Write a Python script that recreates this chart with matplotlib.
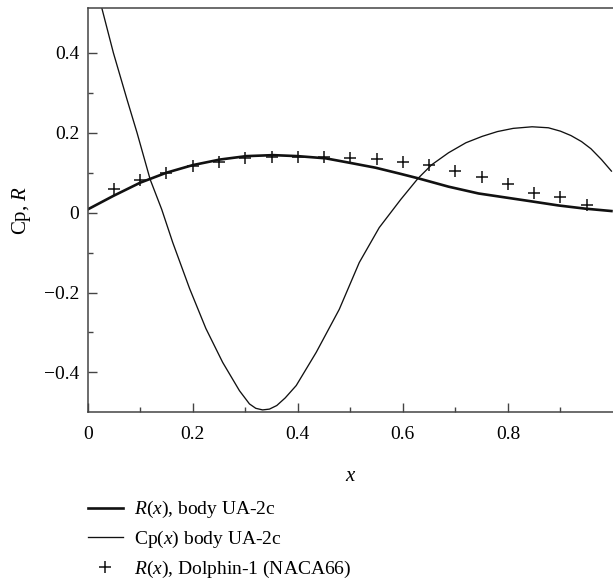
import numpy as np
import matplotlib.pyplot as plt

# Cp(x) body UA-2c
cp_x = [0.027, 0.049, 0.075, 0.094, 0.119, 0.141, 0.162, 0.194, 0.225, 0.257,
        0.289, 0.308, 0.320, 0.333, 0.346, 0.360, 0.376, 0.397, 0.435, 0.479,
        0.517, 0.555, 0.596, 0.629, 0.655, 0.687, 0.720, 0.751, 0.780, 0.810,
        0.846, 0.877, 0.900, 0.920, 0.940, 0.958, 0.978, 0.997]
cp_y = [0.512, 0.400, 0.283, 0.200, 0.083, 0.008, -0.075, -0.190, -0.290, -0.375,
        -0.446, -0.479, -0.490, -0.494, -0.492, -0.483, -0.464, -0.433, -0.350, -0.242,
        -0.125, -0.0375, 0.033, 0.086, 0.120, 0.150, 0.175, 0.191, 0.203, 0.211,
        0.215, 0.2125, 0.204, 0.193, 0.178, 0.160, 0.133, 0.104]

# R(x), body UA-2c
r_x = [0.0, 0.049, 0.100, 0.150, 0.200, 0.252, 0.302, 0.353, 0.400, 0.453,
       0.498, 0.548, 0.593, 0.629, 0.687, 0.744, 0.795, 0.846, 0.896, 0.947, 0.997]
r_y = [0.008, 0.042, 0.075, 0.100, 0.119, 0.133, 0.1415, 0.144, 0.1415, 0.136,
       0.125, 0.1125, 0.098, 0.086, 0.065, 0.048, 0.038, 0.028, 0.018, 0.010, 0.004]

# R(x), Dolphin-1 (NACA66)
d_x = [0.05, 0.10, 0.15, 0.20, 0.25, 0.30, 0.35, 0.40, 0.45, 0.50,
       0.55, 0.60, 0.65, 0.70, 0.75, 0.80, 0.85, 0.90, 0.95]
d_y = [0.058, 0.081, 0.100, 0.1165, 0.1275, 0.136, 0.139, 0.139, 0.1395, 0.1375,
       0.135, 0.128, 0.119, 0.104, 0.088, 0.0725, 0.049, 0.038, 0.020]

plt.rcParams['font.family'] = ['Liberation Serif', 'DejaVu Serif']
plt.rcParams['mathtext.fontset'] = 'custom'
plt.rcParams['mathtext.rm'] = 'Liberation Serif'
plt.rcParams['mathtext.it'] = 'Liberation Serif:italic'

fig = plt.figure(figsize=(6.13, 5.84), dpi=100)
ax = fig.add_axes([0.143, 0.294, 0.857, 0.692])

ax.plot(r_x, r_y, color='#111111', lw=1.9, label=r'$R(x)$, body UA-2c')
ax.plot(cp_x, cp_y, color='#111111', lw=0.95, label=r'Cp$(x)$ body UA-2c')
ax.plot(d_x, d_y, ls='none', marker='+', ms=9, mew=1.1, color='#111111',
        label=r'$R(x)$, Dolphin-1 (NACA66)')

ax.set_xlim(0, 1.0)
ax.set_ylim(-0.5, 0.512)
ax.set_xticks([0, 0.2, 0.4, 0.6, 0.8])
ax.set_xticklabels(['0', '0.2', '0.4', '0.6', '0.8'])
ax.set_xticks(np.arange(0.1, 1.0, 0.2), minor=True)
ax.set_yticks([-0.4, -0.2, 0, 0.2, 0.4])
ax.set_yticklabels(['\u22120.4', '\u22120.2', '0', '0.2', '0.4'])
ax.set_yticks([-0.3, -0.1, 0.1, 0.3], minor=True)

ax.spines['right'].set_visible(False)
for s in ['left', 'bottom', 'top']:
    ax.spines[s].set_linewidth(1.1)
    ax.spines[s].set_color('#444444')
ax.tick_params(which='major', direction='in', length=6.5, width=1.0,
               color='#444444', labelsize=14, pad=10)
ax.tick_params(which='minor', direction='in', length=3.6, width=1.0,
               color='#444444')
ax.tick_params(axis='y', pad=6)

ax.set_xlabel(r'$x$', fontsize=15, labelpad=17)
ax.set_ylabel(r'Cp, $R$', fontsize=15, labelpad=8)

fig.legend(loc='upper left', bbox_to_anchor=(0.143, 0.145), frameon=False,
           fontsize=14, handlelength=1.8, handletextpad=0.6,
           labelspacing=0.45, borderpad=0, borderaxespad=0)

fig.savefig('out.png', dpi=100)
